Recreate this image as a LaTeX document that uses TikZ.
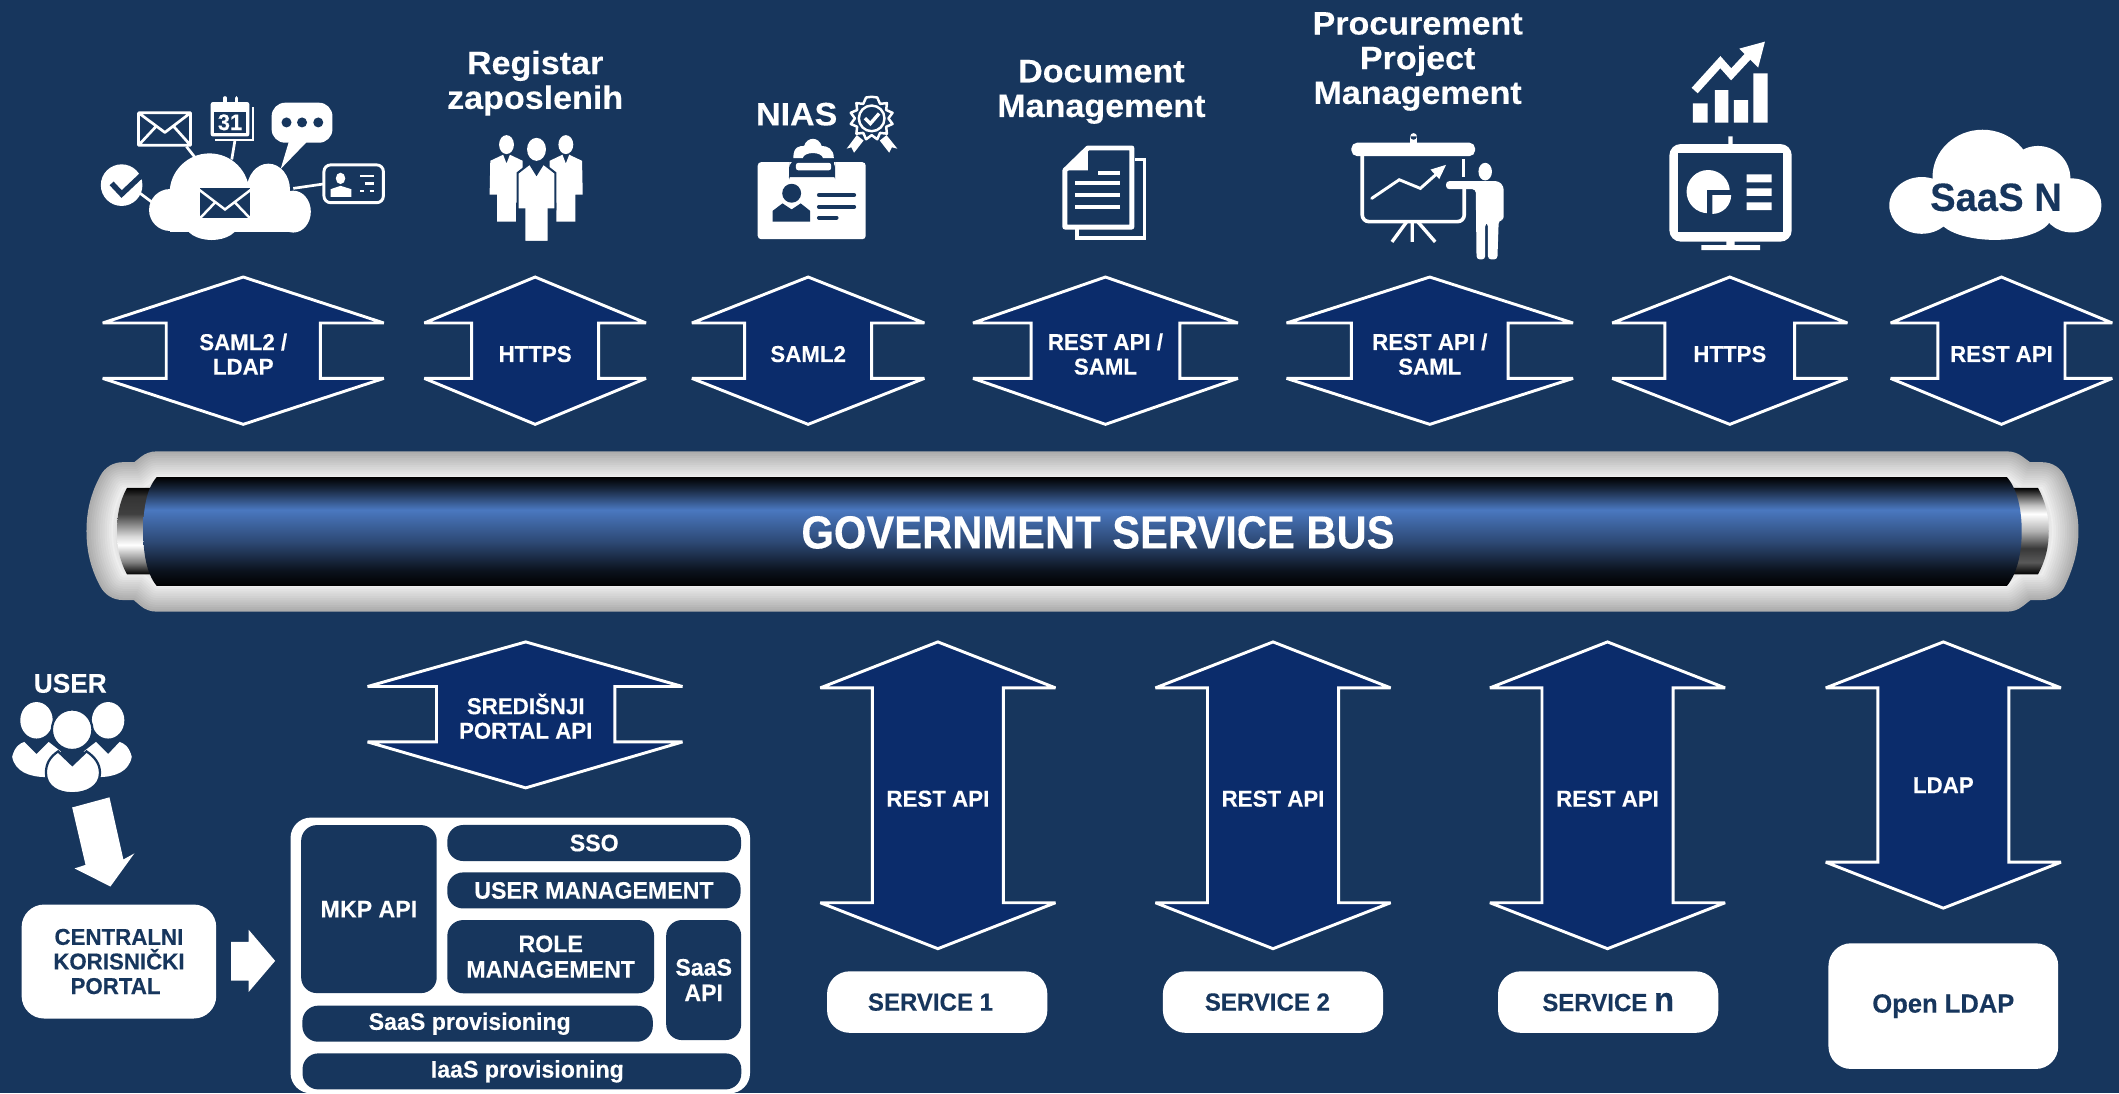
\documentclass[tikz,border=0pt]{standalone}
\usepackage{fontspec}
\setmainfont{Liberation Sans}[FakeStretch=0.97,FakeBold=0.25]
\newfontfamily\hdrfont{Liberation Sans}[FakeStretch=1.05,FakeBold=0.25]
\newfontfamily\busfont{Liberation Sans}[FakeStretch=0.90,FakeBold=0.25]
\usetikzlibrary{positioning}
\definecolor{bg}{RGB}{23,54,93}
\definecolor{arrowblue}{RGB}{11,44,107}
\definecolor{tubeblue}{RGB}{74,120,192}
\newcommand{\fsz}[1]{\fontsize{#1}{\the\dimexpr#1pt*107/100\relax}\selectfont\bfseries}
\pgfdeclareverticalshading{tubeshade}{100bp}{color(0bp)=(black);color(25bp)=(black);color(32bp)=(black!85!tubeblue);color(45bp)=(tubeblue!60!black);color(60bp)=(tubeblue);color(70bp)=(tubeblue!30!black);color(75bp)=(black);color(100bp)=(black)}
\pgfdeclareverticalshading{silverleft}{100bp}{color(0bp)=(black);color(25bp)=(black);color(32bp)=(black!50);color(42bp)=(white);color(47bp)=(black!15);color(60bp)=(black!75);color(70bp)=(black!80);color(75bp)=(black);color(100bp)=(black)}
\pgfdeclareverticalshading{silverright}{100bp}{color(0bp)=(black);color(25bp)=(black);color(32bp)=(black!65);color(40bp)=(black!78);color(50bp)=(black!30);color(60bp)=(white);color(65bp)=(black!25);color(75bp)=(black);color(100bp)=(black)}
\tikzset{
  hdr/.style={text=white,align=center,font=\hdrfont\fsz{14.4}},
  arrlabel/.style={text=white,align=center,font=\fsz{10.2}},
  whitebox/.style={fill=white,rounded corners=10pt,inner sep=0pt,text=bg,align=center,font=\fsz{11}},
  darkbox/.style={fill=bg,rounded corners=7pt,inner sep=0pt,text=white,align=center,font=\fsz{10.6}},
  arrowshape/.style={fill=arrowblue,draw=white,line width=1.3pt,line join=miter,miter limit=4},
  envline/.style={draw=white,line width=1.2pt,line join=round},
}
\begin{document}
\begin{tikzpicture}[x=0.6pt,y=-0.6pt]
	\useasboundingbox[fill=bg] (0,0) rectangle (1568,809);
	%% headings
	\node (registar) at (396,61.5) [hdr] {Registar\\zaposlenih};
	\node (nias) at (589.5,84.5) [hdr] {NIAS};
	\node (document) at (815,68) [hdr] {Document\\Management};
	\node (procurement) at (1049,45.5) [hdr] {Procurement\\Project\\Management};
	%% top row of arrows
	\foreach \n/\cx/\hw/\sw/\txt in {a1/180/104/57/{SAML2 /\\LDAP},a2/396/82/47/HTTPS,a3/598/86/47/SAML2,
	  a4/818/98/55/{REST API /\\SAML},a5/1058/106/58/{REST API /\\SAML},a6/1280/87/48/HTTPS,a7/1481/82/47/REST API}{
	  \draw[arrowshape] (\cx,205) -- (\cx+\hw,239) -- (\cx+\sw,239) -- (\cx+\sw,280) -- (\cx+\hw,280)
	    -- (\cx,314) -- (\cx-\hw,280) -- (\cx-\sw,280) -- (\cx-\sw,239) -- (\cx-\hw,239) -- cycle;
	  \node (\n) at (\cx,262) [arrlabel] {\txt};
	}
	%% bus
	\foreach \i in {0,...,11}{
	  \pgfmathsetmacro\wd{22.8-\i*2}
	  \pgfmathsetmacro\gr{32-\i*2.3}
	  \draw[line width=\wd pt,line join=round,draw=black!\gr!white]
	    (116,353) -- (1485,353) -- (1496,361) -- (1511,361) .. controls (1516,372) and (1519,382) .. (1519,393)
	    .. controls (1519,404) and (1516,414) .. (1511,425) -- (1496,425) -- (1485,433.6) -- (116,433.6)
	    -- (106,425) -- (91,425) .. controls (85,414) and (83,404) .. (83,393)
	    .. controls (83,382) and (85,372) .. (91,361) -- (106,361) -- cycle;
	}
	\shade[shading=silverleft] (94,361) -- (112,361) -- (112,425) -- (94,425) .. controls (88,414) and (86.6,404) .. (86.6,393) .. controls (86.6,382) and (88,372) .. (94,361) -- cycle;
	\shade[shading=silverright] (1508,361) -- (1490,361) -- (1490,425) -- (1508,425) .. controls (1514,414) and (1516,404) .. (1516,393) .. controls (1516,382) and (1514,372) .. (1508,361) -- cycle;
	\shade[shading=tubeshade] (116,353) -- (1485,353) .. controls (1493,362) and (1496,378) .. (1496,393)
	  .. controls (1496,408) and (1493,424) .. (1485,433.6) -- (116,433.6)
	  .. controls (108,424) and (106,408) .. (106,393) .. controls (106,378) and (108,362) .. (116,353) -- cycle;
	\node (bus) at (812.5,394) [text=white,font=\busfont\fsz{20.6}] {GOVERNMENT SERVICE BUS};
	%% lower arrows
	\draw[arrowshape] (389,475) -- (505,508) -- (455,508) -- (455,549) -- (505,549) -- (389,583) -- (272,549) -- (323,549) -- (323,508) -- (272,508) -- cycle;
	\node (portalapi) at (389,530) [arrlabel] {SREDIŠNJI\\PORTAL API};
	\foreach \n/\cx/\ysh/\ytip/\ylab/\txt in {b1/694/668/702/591/REST API,b2/942/668/702/591/REST API,b3/1189.5/668/702/591/REST API,b4/1438/638/672/581/LDAP}{
	  \draw[arrowshape] (\cx,475) -- (\cx+87,509) -- (\cx+48.5,509) -- (\cx+48.5,\ysh) -- (\cx+87,\ysh)
	    -- (\cx,\ytip) -- (\cx-87,\ysh) -- (\cx-48.5,\ysh) -- (\cx-48.5,509) -- (\cx-87,509) -- cycle;
	  \node (\n) at (\cx,\ylab) [arrlabel] {\txt};
	}
	%% services
	\node (s1) at (693.5,741.5) [whitebox,minimum width=97.8pt,minimum height=27.3pt] {\raisebox{-0.5pt}{SERVICE 1}\kern6pt};
	\node (s2) at (942,741.5) [whitebox,minimum width=97.8pt,minimum height=27.3pt] {\raisebox{-0.5pt}{SERVICE 2}\kern5pt};
	\node (sn) at (1190,741.5) [whitebox,minimum width=97.8pt,minimum height=27.3pt] {\raisebox{-0.5pt}{SERVICE {\fontsize{15}{15}\selectfont n}}};
	\node (ldap) at (1438,744.5) [whitebox,minimum width=102pt,minimum height=55.8pt,font=\fsz{11.7}] {\raisebox{-1.5pt}{Open LDAP}};
	%% portal
	\node (portal) at (88,711.5) [whitebox,minimum width=86.4pt,minimum height=50.6pt,font=\fsz{10.2}] {CENTRALNI\\KORISNIČKI\\PORTAL\kern3pt};
	\fill[white] (171,697) -- (184,697) -- (184,688) -- (203.6,711) -- (184,734) -- (184,725.7) -- (171,725.7) -- cycle;
	\node (mkpbox) at (385,707) [fill=white,rounded corners=9pt,minimum width=204pt,minimum height=122.4pt,inner sep=0pt] {};
	\node (mkp) at (273,672.7) [darkbox,minimum width=60.2pt,minimum height=74.6pt] {MKP API};
	\node (sso) at (439.7,623.8) [darkbox,minimum width=130.4pt,minimum height=16pt] {SSO};
	\node (usermgmt) at (439.5,658.9) [darkbox,minimum width=130.2pt,minimum height=16pt] {USER MANAGEMENT};
	\node (rolemgmt) at (407.5,707.9) [darkbox,minimum width=91.8pt,minimum height=32.5pt] {ROLE\\MANAGEMENT};
	\node (saasapi) at (520.7,725.2) [darkbox,minimum width=33.3pt,minimum height=53.3pt] {SaaS\\API};
	\node (saasprov) at (353.4,757.5) [darkbox,minimum width=155.6pt,minimum height=16pt] {SaaS provisioning\kern7pt};
	\node (iaasprov) at (386.2,792.8) [darkbox,minimum width=194.8pt,minimum height=16pt] {\kern4.8pt IaaS provisioning};
	%% user
	\node (user) at (52,505.7) [hdr,font=\fsz{12}] {USER};
	\foreach \px in {27,80}{
	  \fill[white] (\px,533) ellipse (12 and 13.5);
	}
	\fill[white] (9,560) .. controls (11,552) and (15,550) .. (18,549) -- (27,558) -- (36,549) -- (45,556) -- (34,575) .. controls (22,575) and (11,571) .. (9,560) -- cycle;
	\fill[white] (97.5,560) .. controls (95.5,552) and (91.5,550) .. (88.5,549) -- (80,558) -- (71,549) -- (62,556) -- (73,575) .. controls (85,575) and (95.5,571) .. (97.5,560) -- cycle;
	\fill[white,draw=bg,line width=1pt] (53.4,540) ellipse (15 and 15);
	\fill[white,draw=bg,line width=1pt] (34,572) .. controls (34,565) and (37,560) .. (43,556) -- (53.5,566) -- (64,556) .. controls (70,560) and (74,565) .. (74,572) .. controls (74,582) and (64,587) .. (53.5,587) .. controls (43,587) and (34,582) .. (34,572) -- cycle;
	\fill[white] (53.4,597.5) -- (81,590) -- (91.3,636) -- (99.4,631.5) -- (81.7,656) -- (55.2,642.6) -- (63.3,640) -- cycle;
	%% cloud icon
	\draw[white,line width=1.2pt] (138,108.5) -- (145.5,118) (174,103) -- (171.5,118) (103.6,143) -- (113,150) (217,139.4) -- (239,136.2);
	\fill[white] (155,143) circle (29.5) (198.6,140.6) ellipse (16 and 19.5) (125.8,155.4) circle (15.5) (217,156.6) ellipse (13 and 15.5) (156.6,165) ellipse (20 and 12.6);
	\fill[white] (126,146) rectangle (217,171.5);
	\fill[bg] (148,139.4) rectangle (185,161.6);
	\draw[white,line width=1.1pt] (147.5,140.5) -- (166.5,155) -- (185.5,140.5) (147.5,162) -- (159,150) (185.5,162) -- (174,150);
	\draw[envline] (102.5,83.5) rectangle (141,107.5) (102.5,83.5) -- (122,98) -- (141,83.5) (102.5,107.5) -- (116,93) (141,107.5) -- (128,93);
	\draw[white,line width=0.9pt] (159,103.5) -- (187,103.5) -- (187,79);
	\fill[white,rounded corners=1pt] (155.9,75.5) rectangle (184.5,101);
	\fill[bg] (158.4,82.6) rectangle (182,98.2);
	\draw[white,line width=1.6pt,line cap=round] (166.5,72.5) -- (166.5,78) (175,72.5) -- (175,78);
	\node (cal) at (170.2,90.5) [text=white,font=\fsz{10},inner sep=0pt] {31};
	\fill[white,rounded corners=6pt] (201,76) rectangle (246,105.6);
	\fill[white] (214,104) -- (228,104) -- (207.7,125) -- cycle;
	\foreach \dx in {212,223.5,235.5}{
	  \fill[bg] (\dx,90.6) circle (3.7);
	}
	\fill[white] (90,137) circle (15.4);
	\draw[bg,line width=2.4pt] (82.6,135.7) -- (90,143.6) -- (105.5,129);
	\draw[white,line width=1.3pt,rounded corners=3pt] (239.7,122) rectangle (283.7,150);
	\fill[white] (252,132) ellipse (3.5 and 4.2) (244.7,145.6) -- (244.7,140) -- (252,137.5) -- (260,140) -- (260,145.6) -- cycle;
	\draw[white,line width=1.1pt] (266.4,130.2) -- (276.8,130.2) (270,135.7) -- (276.8,135.7) (266.4,141.3) -- (269,141.3) (273.6,141.3) -- (276.8,141.3);
	%% people icon
	\foreach \sx/\sd in {374.8/1,418.7/-1}{
	  \fill[white] (\sx,107) ellipse (5.5 and 7);
	  \fill[white] (\sx-12*\sd,119) -- (\sx-2.5*\sd,114.5) -- (\sx,121) -- (\sx+2.5*\sd,114.5) -- (\sx+12*\sd,119) -- (\sx+12*\sd,150) -- (\sx+7*\sd,150)
	    -- (\sx+7*\sd,164) -- (\sx-7*\sd,164) -- (\sx-7*\sd,144) -- (\sx-12.5*\sd,144) -- cycle;
	}
	\fill[white] (397,110.5) ellipse (7 and 8.5);
	\fill[white,draw=bg,line width=0.9pt] (383,128) -- (392,121) -- (397,129) -- (402,121) -- (411,128) -- (411,155) -- (406,155) -- (406,179) -- (388,179) -- (388,155) -- (383,155) -- cycle;
	%% nias badge
	\fill[white,rounded corners=1.5pt] (560.7,120) rectangle (640.6,177);
	\fill[bg,rounded corners=4pt] (584,118) -- (584,126) .. controls (584,130) and (586,131) .. (590,131) -- (611,131) .. controls (615,131) and (618,130) .. (618,126) -- (618,118) -- cycle;
	\fill[white] (587,117) .. controls (587,108) and (592,108) .. (595,108) .. controls (597,101) and (606,101) .. (608,108) .. controls (612,108) and (617,110) .. (617,117) -- (609,117) .. controls (608,112) and (595,112) .. (594,117) -- cycle;
	\fill[bg] (587,120) rectangle (617,122);
	\fill[white,rounded corners=1pt] (589,120.5) rectangle (615,126);
	\fill[bg] (585.8,143) circle (7);
	\fill[bg] (571.8,164) -- (571.8,156) -- (579,150.5) -- (585.8,155) -- (592.5,150.5) -- (599.4,156) -- (599.4,164) -- cycle;
	\draw[bg,line width=1.8pt,line cap=round] (606,144.3) -- (632,144.3) (606,153) -- (632,153) (606,161) -- (619,161);
	\fill[white] (626.5,110) -- (634,100) -- (639,104) -- (632,113) -- (630,109) -- cycle;
	\fill[white] (664,110) -- (656,100) -- (651,104) -- (658,113) -- (660,109) -- cycle;
	\draw[white,line width=1.1pt,line join=round,fill=bg] (645,71.6)
	  \foreach \a in {15,30,...,345}{ -- ({645+(16-1.8*(1+cos(12*\a)))*sin(\a)},{87.6-(16-1.8*(1+cos(12*\a)))*cos(\a)}) } -- cycle;
	\draw[white,line width=1.1pt] (645,87.6) circle (9.5);
	\draw[white,line width=1.5pt] (640,87.5) -- (644,91.5) -- (650.5,84);
	%% document
	\draw[white,line width=1.5pt] (840,118) -- (847,118) -- (847,176) -- (797,176) -- (797,169);
	\draw[white,line width=2.2pt,line join=round] (805,109.5) -- (837.5,109.5) -- (837.5,168) -- (788,168) -- (788,126) -- cycle;
	\fill[white] (805,109.5) -- (805,126) -- (788,126) -- cycle;
	\draw[white,line width=1.7pt] (812.8,127.8) -- (828.8,127.8) (795.5,135.7) -- (828.8,135.7) (795.5,144.3) -- (828.8,144.3) (795.5,153) -- (828.8,153);
	%% projector
	\fill[white,rounded corners=2.5pt] (1000,105.6) rectangle (1091.5,115.5);
	\fill[white] (1046,101) circle (2.5) (1043.5,101) rectangle (1048.5,106);
	\draw[white,line width=1.6pt,rounded corners=3pt] (1008,115) -- (1008,164) -- (1083.5,164) -- (1083.5,140);
	\draw[white,line width=1.3pt,line cap=round] (1015,146.8) -- (1035.4,133) -- (1051,139.4) -- (1065,127);
	\fill[white] (1070,122) -- (1058.5,125.5) -- (1065,132.5) -- cycle;
	\draw[white,line width=1.5pt] (1045,164) -- (1045,179) (1041,164) -- (1030,179) (1049,164) -- (1062,179);
	\draw[white,line width=1.4pt] (1083,118) -- (1083,131);
	\fill[white] (1099,127) ellipse (5 and 6.5);
	\fill[white,rounded corners=1.5pt] (1070,134) -- (1109,134) -- (1112.7,138) -- (1112.7,163) -- (1109,163) -- (1108,192) -- (1101,192) -- (1101,165) -- (1099,165) -- (1099,192) -- (1092.6,192) -- (1092,140) -- (1070,140) -- cycle;
	%% chart and monitor
	\fill[white] (1252.6,76.5) rectangle (1263.5,90.8) (1269,66.6) rectangle (1279,90.8) (1283,74) rectangle (1293.6,90.8) (1297.5,54.3) rectangle (1308,90.8);
	\draw[white,line width=3.6pt] (1254,67) -- (1273,46) -- (1281,55) -- (1294,41);
	\fill[white] (1306,30.8) -- (1287,36) -- (1301,50) -- cycle;
	\fill[white,rounded corners=5pt] (1235.3,106.6) rectangle (1325.8,178.8);
	\fill[bg] (1242,113) rectangle (1319,171.4);
	\fill[white] (1279,101) rectangle (1282,108) (1277.5,178) rectangle (1283.5,182) (1259,181.3) rectangle (1302.4,185);
	\fill[white] (1264,141.8) circle (16);
	\fill[bg] (1263,140.6) rectangle (1282,160);
	\fill[white] (1267,144.3) -- (1281,144.3) arc (0:90:14) -- cycle;
	\fill[white] (1292.5,129) rectangle (1311,135) (1292.5,139.4) rectangle (1311,145) (1292.5,149.7) rectangle (1311,155.4);
	%% saas cloud
	\fill[white] (1467,131) ellipse (37 and 35) (1508,132) ellipse (24 and 24) (1422,152) ellipse (24 and 21) (1533,152) ellipse (22 and 20) (1476,160) ellipse (42 and 17.5);
	\node (saasn) at (1477,146) [text=bg,font=\fsz{17.5}] {SaaS N};
\end{tikzpicture}
\end{document}
